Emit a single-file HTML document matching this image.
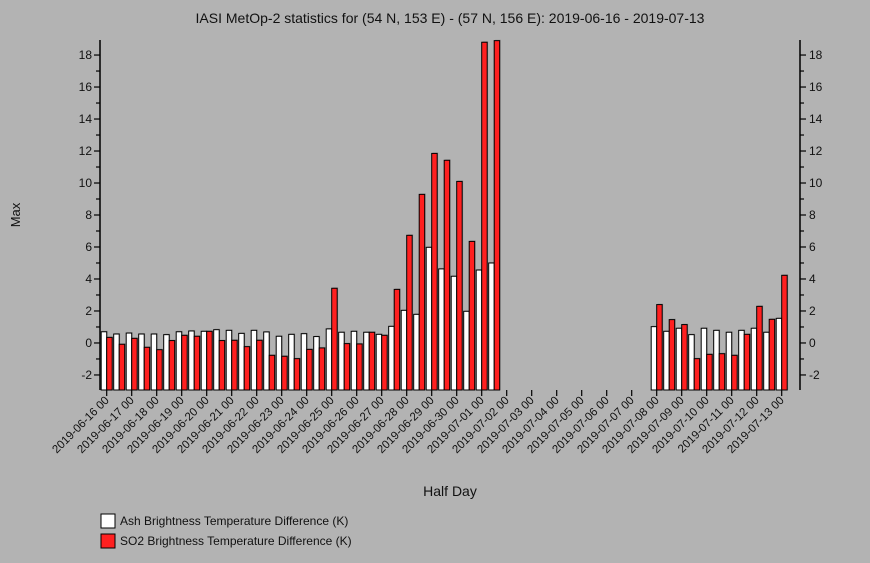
<!DOCTYPE html>
<html><head><meta charset="utf-8"><style>
html,body{margin:0;padding:0;background:#b3b3b3;}
svg{display:block;font-family:"Liberation Sans",sans-serif;}
</style></head><body>
<svg id="chart" width="870" height="563" viewBox="0 0 870 563">
<rect width="870" height="563" fill="#b3b3b3"/>
<text x="450" y="23" font-size="14" text-anchor="middle" fill="#111">IASI MetOp-2 statistics for (54 N, 153 E) - (57 N, 156 E): 2019-06-16 - 2019-07-13</text>
<text x="20" y="215" font-size="13" text-anchor="middle" transform="rotate(-90 20 215)" fill="#111">Max</text>
<text x="450" y="496" font-size="14" text-anchor="middle" fill="#111">Half Day</text>
<g id="bars"></g>
<g id="axes"></g>
<g>
<rect x="101" y="514" width="14" height="14" fill="#fff" stroke="#000"/>
<text x="120" y="525" font-size="12" fill="#111">Ash Brightness Temperature Difference (K)</text>
<rect x="101" y="534" width="14" height="14" fill="#ff2020" stroke="#000"/>
<text x="120" y="545" font-size="12" fill="#111">SO2 Brightness Temperature Difference (K)</text>
</g>
</svg>
<script>
const dayLabels = ["2019-06-16 00","2019-06-17 00","2019-06-18 00","2019-06-19 00","2019-06-20 00","2019-06-21 00","2019-06-22 00","2019-06-23 00","2019-06-24 00","2019-06-25 00","2019-06-26 00","2019-06-27 00","2019-06-28 00","2019-06-29 00","2019-06-30 00","2019-07-01 00","2019-07-02 00","2019-07-03 00","2019-07-04 00","2019-07-05 00","2019-07-06 00","2019-07-07 00","2019-07-08 00","2019-07-09 00","2019-07-10 00","2019-07-11 00","2019-07-12 00","2019-07-13 00"];
const yTicks = [-2,0,2,4,6,8,10,12,14,16,18];
const ashValues = [0.7,0.56,0.62,0.56,0.56,0.52,0.7,0.75,0.73,0.83,0.79,0.6,0.79,0.69,0.42,0.54,0.58,0.4,0.88,0.67,0.73,0.67,0.54,1.04,2.04,1.79,5.98,4.63,4.17,1.98,4.56,5.0,
null,null,null,null,null,null,null,null,null,null,null,null,
1.02,0.73,0.92,0.52,0.92,0.79,0.67,0.79,0.92,0.67,1.54];
const so2Values = [0.35,-0.08,0.29,-0.27,-0.42,0.15,0.48,0.42,0.73,0.15,0.17,-0.23,0.17,-0.77,-0.83,-0.98,-0.4,-0.31,3.42,-0.04,-0.06,0.67,0.48,3.35,6.73,9.29,11.85,11.42,10.1,6.35,18.8,18.9,
null,null,null,null,null,null,null,null,null,null,null,null,
2.4,1.46,1.15,-0.98,-0.71,-0.67,-0.77,0.54,2.29,1.48,4.23];

const NS="http://www.w3.org/2000/svg";
const L=100,R=800,T=40,B=390;
const yMin=-2.94, yMax=18.94;
function yS(v){return B-(v-yMin)/(yMax-yMin)*(B-T);}
function xS(halfDay){return 106.7+halfDay*12.5;}
function mk(tag,attrs,parent){const e=document.createElementNS(NS,tag);for(const k in attrs)e.setAttribute(k,attrs[k]);parent.appendChild(e);return e;}
const bars=document.getElementById('bars'), axes=document.getElementById('axes');

for(let i=0;i<ashValues.length;i++){
  const c=xS(i);
  [[ashValues[i],c-5.5,'#ffffff','ash'],[so2Values[i],c,'#ff2020','so2']].forEach(([v,x,col,nm])=>{
    if(v===null||v===undefined)return;
    const top=Math.min(yS(v),B), h=B-top;
    const s=mk('rect',{x:x+1,y:top-1,width:5.5,height:h+1,fill:'#888',opacity:0.6},bars);
    
    
    const r=mk('rect',{x:x,y:top,width:5.5,height:h,fill:col,stroke:'#000','stroke-width':1},bars);
    
    
  });
}

[[L],[R]].forEach(([x])=>{
  const l=mk('line',{x1:x,y1:T,x2:x,y2:B,stroke:'#000','stroke-width':1.5},axes);
  
  
});
for(let v=-2;v<=18;v++){
  const y=yS(v), major=(v%2===0), len=major?6:4;
  mk('line',{x1:L-len,y1:y,x2:L,y2:y,stroke:'#000','stroke-width':1.2},axes);
  mk('line',{x1:R,y1:y,x2:R+len,y2:y,stroke:'#000','stroke-width':1.2},axes);
}
yTicks.forEach(v=>{
  const y=yS(v);
  const t1=mk('text',{x:L-8,y:y+4,'font-size':12,'text-anchor':'end',fill:'#111'},axes);
  t1.textContent=v;
  
  
  const t2=mk('text',{x:R+9,y:y+4,'font-size':12,'text-anchor':'start',fill:'#111'},axes);
  t2.textContent=v;
  
  
});
dayLabels.forEach((lab,d)=>{
  const x=xS(d*2);
  mk('line',{x1:x,y1:B,x2:x,y2:B+6,stroke:'#000','stroke-width':1.2},axes);
  const t=mk('text',{x:x+3,y:B+11,'font-size':11.5,'text-anchor':'end',fill:'#111',transform:`rotate(-45 ${x+3} ${B+11})`},axes);
  t.textContent=lab;
  
  
});
</script>
</body></html>
